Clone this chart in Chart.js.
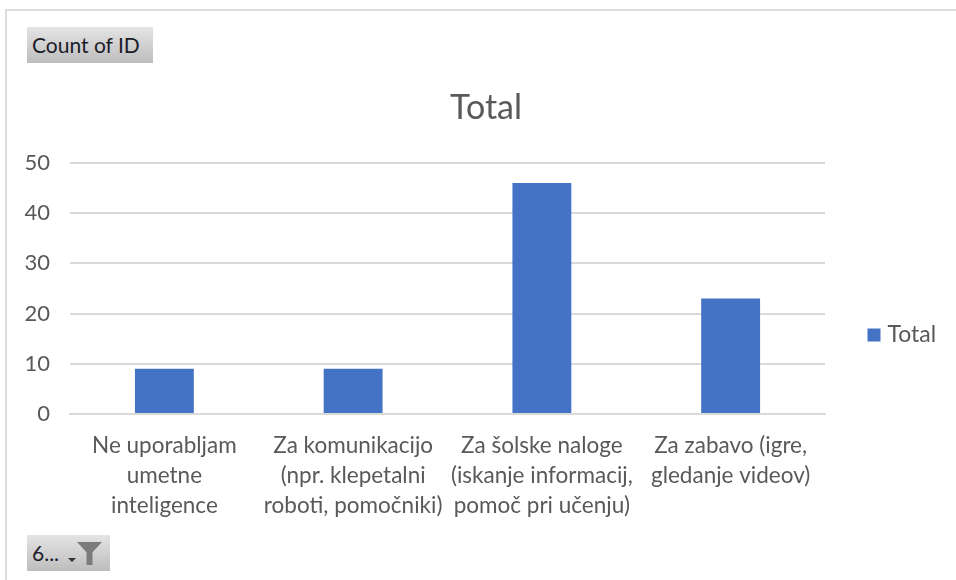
<!DOCTYPE html>
<html>
<head>
<meta charset="utf-8">
<style>
html,body{margin:0;padding:0;background:#fff;width:956px;height:580px;overflow:hidden}
#frame{position:absolute;left:5px;top:9px;width:960px;height:580px;border:2px solid #dcdcdc;box-sizing:border-box;}
#wrap{position:absolute;left:0;top:0;width:956px;height:580px}
.btn{position:absolute;background:linear-gradient(#e4e4e4,#bdbdbd);color:#1c1c28;font:21px Lato,sans-serif;box-sizing:border-box;white-space:nowrap}
#b1{left:27px;top:27px;width:126px;height:36px;line-height:36px;padding-left:5px}
#b2{left:27px;top:535px;width:83px;height:36px;line-height:36px;padding-left:5px}
#arrow{position:absolute;left:41px;top:23px;width:0;height:0;border-left:4px solid transparent;border-right:4px solid transparent;border-top:4px solid #333}
#funnel{position:absolute;left:50px;top:7px;width:25px;height:23px;background:#7b7b7b;clip-path:polygon(0 0,100% 0,62% 45%,62% 100%,38% 100%,38% 45%)}
</style>
</head>
<body>
<div id="frame"></div>
<div id="wrap"><canvas id="c" width="956" height="580"></canvas></div>
<div class="btn" id="b1">Count of ID</div>
<div class="btn" id="b2">6...<span id="arrow"></span><span id="funnel"></span></div>
<script src="https://cdn.jsdelivr.net/npm/chart.js@4/dist/chart.umd.min.js"></script>
<script>
const categories = [
  ["Ne uporabljam","umetne","inteligence"],
  ["Za komunikacijo","(npr. klepetalni","roboti, pomočniki)"],
  ["Za šolske naloge","(iskanje informacij,","pomoč pri učenju)"],
  ["Za zabavo (igre,","gledanje videov)"]
];
const seriesName = "Total";
const seriesValues = [9, 9, 46, 23];
const yTicks = [0, 10, 20, 30, 40, 50];

const fontFamily = "Lato, sans-serif";
const textColor = "#595959";

const legendPlacement = {
  id: 'legendPlacement',
  beforeLayout(chart) {
    const l = chart.legend;
    if (!l._wrapped) {
      const f = l.fit;
      l.fit = function () { f.call(this); this.width = 131; };
      l._wrapped = true;
    }
  },
  afterLayout(chart) {
    const l = chart.legend;
    const mid = l.top + l.height / 2;
    const d = 335 - mid;
    l.top += d; l.bottom += d;
  }
};

new Chart(document.getElementById('c'), {
  type: 'bar',
  plugins: [legendPlacement],
  data: {
    labels: categories,
    datasets: [{
      label: seriesName,
      data: seriesValues,
      backgroundColor: '#4472c4',
      barPercentage: 1,
      categoryPercentage: 0.312
    }]
  },
  options: {
    responsive: false,
    animation: false,
    layout: { padding: { left: 16, right: 0, top: 0, bottom: 0 } },
    plugins: {
      tooltip: { enabled: false },
      title: {
        display: true,
        text: seriesName,
        color: textColor,
        font: { family: fontFamily, size: 34, weight: 'normal' },
        padding: { top: 88, bottom: 34 }
      },
      legend: {
        display: true,
        position: 'right',
        labels: {
          boxWidth: 4, boxHeight: 4, padding: 47,
          color: textColor,
          font: { family: fontFamily, size: 23 },
          generateLabels(chart) {
            const items = Chart.defaults.plugins.legend.labels.generateLabels(chart);
            items.forEach(it => { it.lineWidth = 9; it.strokeStyle = it.fillStyle; });
            return items;
          }
        }
      }
    },
    scales: {
      x: {
        grid: { display: false, drawTicks: false },
        border: { color: '#d9d9d9', width: 2 },
        ticks: {
          autoSkip: false, maxRotation: 0, minRotation: 0, padding: 17,
          color: textColor,
          font: { family: fontFamily, size: 22.5, lineHeight: 1.333 }
        },
        afterFit(s) { s.height = 166; }
      },
      y: {
        min: 0, max: 50,
        afterBuildTicks(s) { s.ticks = yTicks.map(v => ({ value: v })); },
        grid: { color: '#d9d9d9', lineWidth: 2, drawTicks: false },
        border: { display: false },
        ticks: {
          padding: 20,
          color: textColor,
          font: { family: fontFamily, size: 22 }
        },
        afterFit(s) { s.width = 54; }
      }
    }
  }
});
</script>
</body>
</html>
